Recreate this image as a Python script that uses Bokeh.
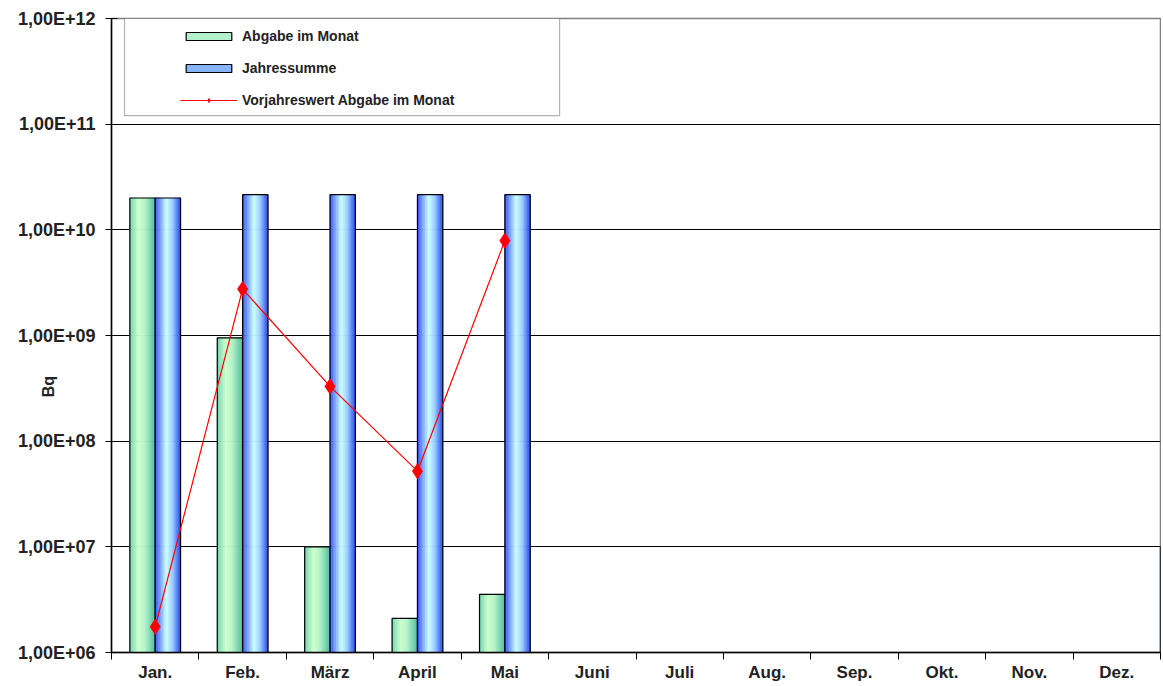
from bokeh.plotting import figure
from bokeh.models import (ColumnDataSource, FixedTicker, CustomJSTickFormatter, Legend,
                          LegendItem, BoxAnnotation, Range1d)
from bokeh.embed import file_html
from bokeh.resources import INLINE

# ---------------- data ----------------
months = ["Jan.", "Feb.", "März", "April", "Mai", "Juni", "Juli", "Aug.", "Sep.", "Okt.", "Nov.", "Dez."]
abgabe = [2.0e10, 9.5e8, 1.0e7, 2.1e6, 3.55e6]              # Abgabe im Monat
jahressumme = [2.0e10, 2.15e10, 2.15e10, 2.15e10, 2.15e10]  # Jahressumme
vorjahr = [1.75e6, 2.75e9, 3.3e8, 5.2e7, 7.9e9]             # Vorjahreswert Abgabe im Monat
y_ticks = [1e6, 1e7, 1e8, 1e9, 1e10, 1e11, 1e12]
y_title = "Bq"
base = 1e6

FONT = "Liberation Sans"

p = figure(width=1161, height=684, y_axis_type="log",
           x_range=Range1d(-0.5, len(months) - 0.5), y_range=Range1d(1e6, 1e12),
           output_backend="svg", toolbar_location=None,
           min_border_left=111, min_border_top=18, min_border_right=1, min_border_bottom=30)
p.background_fill_color = "white"
p.border_fill_color = "white"
p.outline_line_color = "#808080"
p.outline_line_width = 1.5

# ---------------- bars with gradient strips ----------------
def hex2rgb(h):
    h = h.lstrip("#")
    return tuple(int(h[i:i + 2], 16) for i in (0, 2, 4))

def interp(stops, t):
    for (t0, c0), (t1, c1) in zip(stops[:-1], stops[1:]):
        if t0 <= t <= t1:
            f = (t - t0) / (t1 - t0) if t1 > t0 else 0
            a, b = hex2rgb(c0), hex2rgb(c1)
            return "#%02x%02x%02x" % tuple(int(round(a[i] + (b[i] - a[i]) * f)) for i in range(3))
    return stops[-1][1]

green_stops = [(0.0, "#6fd2b0"), (0.35, "#ccffcc"), (0.6, "#b4f2c8"), (1.0, "#4fbe9e")]
blue_stops = [(0.0, "#2f50ff"), (0.45, "#ccffff"), (0.7, "#99ccff"), (1.0, "#2a48ee")]

bar_w = 0.29
NS = 16

def add_bars(values, offset, stops):
    xs, tops, cols = [], [], []
    for i, v in enumerate(values):
        c = i + offset
        for k in range(NS):
            t = (k + 0.5) / NS
            xs.append(c - bar_w / 2 + t * bar_w)
            tops.append(v)
            cols.append(interp(stops, t))
    src = ColumnDataSource(dict(x=xs, top=tops, color=cols))
    p.vbar(x="x", top="top", bottom=base, width=bar_w / NS * 1.05, source=src,
           fill_color="color", line_color="color", line_width=0.5)
    osrc = ColumnDataSource(dict(x=[i + offset for i in range(len(values))], top=values))
    p.vbar(x="x", top="top", bottom=base, width=bar_w, source=osrc,
           fill_color=None, line_color="black", line_width=1.2)

add_bars(abgabe, -bar_w / 2, green_stops)
add_bars(jahressumme, bar_w / 2, blue_stops)

# ---------------- line ----------------
lsrc = ColumnDataSource(dict(x=list(range(len(vorjahr))), y=vorjahr))
lr = p.line("x", "y", source=lsrc, line_color="#ff0000", line_width=1.2)
sr = p.scatter("x", "y", source=lsrc, marker="diamond", size=15,
               fill_color="#ff0000", line_color="#ff0000")

# ---------------- axes ----------------
p.xaxis.ticker = FixedTicker(ticks=list(range(len(months))),
                             minor_ticks=[i - 0.5 for i in range(len(months) + 1)])
p.xaxis.formatter = CustomJSTickFormatter(args=dict(labels=months),
                                          code="const i = Math.round(tick); return labels[i] || '';")
p.xaxis.major_tick_out = 0
p.xaxis.major_tick_in = 0
p.xaxis.minor_tick_out = 7
p.xaxis.minor_tick_in = 0
p.xaxis.minor_tick_line_color = "black"
p.xaxis.axis_line_color = "black"
p.xaxis.axis_line_width = 1.5
p.xaxis.major_label_standoff = 3
p.xaxis.major_label_text_font = FONT
p.xaxis.major_label_text_font_size = "17px"
p.xaxis.major_label_text_font_style = "bold"
p.xaxis.major_label_text_color = "#222222"

p.yaxis.ticker = FixedTicker(ticks=y_ticks, minor_ticks=[])
p.yaxis.formatter = CustomJSTickFormatter(code="""
const e = Math.round(Math.log10(tick));
return "1,00E+" + (e < 10 ? "0" : "") + e;
""")
p.yaxis.major_tick_out = 6
p.yaxis.major_tick_in = 6
p.yaxis.minor_tick_out = 0
p.yaxis.minor_tick_in = 0
p.yaxis.axis_line_color = "black"
p.yaxis.axis_line_width = 1.5
p.yaxis.major_label_standoff = 10
p.yaxis.major_label_text_font = FONT
p.yaxis.major_label_text_font_size = "18px"
p.yaxis.major_label_text_font_style = "bold"
p.yaxis.major_label_text_color = "#222222"
# axis title, pulled in among the tick labels and shifted below the middle
p.yaxis.axis_label = y_title + "\u00a0" * 23
p.yaxis.axis_label_standoff = -42
p.yaxis.axis_label_text_font = FONT
p.yaxis.axis_label_text_font_size = "16px"
p.yaxis.axis_label_text_font_style = "bold"
p.yaxis.axis_label_text_color = "#222222"

p.xgrid.grid_line_color = None
p.ygrid.ticker = FixedTicker(ticks=y_ticks[1:-1], minor_ticks=[])
p.ygrid.grid_line_color = "black"
p.ygrid.grid_line_width = 1.2

# ---------------- legend ----------------
leg_green = p.vbar(x=[100], top=[1e7], bottom=base, width=0.1, fill_color="#b4f0cc",
                   line_color="black", line_width=1.2)
leg_blue = p.vbar(x=[100], top=[1e7], bottom=base, width=0.1, fill_color="#88b4ff",
                  line_color="black", line_width=1.2)

p.add_layout(BoxAnnotation(left=-0.5 + 13 / 87.4, right=-0.5 + 448 / 87.4,
                           top=1e12, bottom=10 ** (12 - 97 / 105.5),
                           fill_color="white", fill_alpha=1.0,
                           line_color="black", line_width=1.2, level="overlay"))

legend = Legend(items=[
    LegendItem(label="Abgabe im Monat", renderers=[leg_green]),
    LegendItem(label="Jahressumme", renderers=[leg_blue]),
    LegendItem(label="Vorjahreswert Abgabe im Monat", renderers=[lr, sr]),
], location=(69, 633 - 5 - 86), orientation="vertical")
legend.padding = 0
legend.margin = 0
legend.spacing = 11
legend.glyph_width = 57
legend.glyph_height = 10
legend.label_height = 21
legend.label_standoff = 5
legend.border_line_alpha = 0
legend.background_fill_alpha = 0
legend.label_text_font = FONT
legend.label_text_font_size = "14px"
legend.label_text_font_style = "bold"
legend.label_text_color = "#222222"
legend.label_text_baseline = "middle"
p.add_layout(legend, "center")

open("out.html", "w").write(file_html(p, INLINE))
